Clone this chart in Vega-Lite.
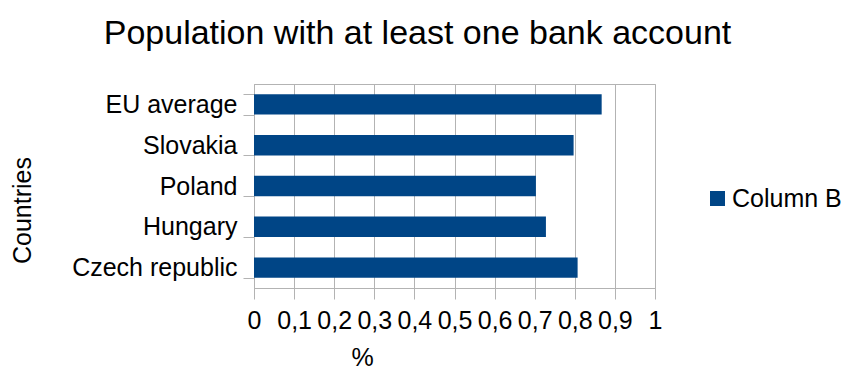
{
  "$schema": "https://vega.github.io/schema/vega-lite/v6.json",
  "autosize": {"type": "none"},
  "padding": {"left": 254, "top": 84, "right": 196, "bottom": 84},
  "width": 401,
  "height": 204,
  "background": "white",
  "title": {
    "text": "Population with at least one bank account",
    "font": "Liberation Sans",
    "fontSize": 34,
    "fontWeight": "normal",
    "color": "#000000",
    "anchor": "middle",
    "frame": "group",
    "baseline": "alphabetic",
    "offset": 42,
    "dx": -37,
    "dy": 48
  },
  "data": {
    "values": [
      {"country": "EU average", "value": 0.867, "series": "Column B"},
      {"country": "Slovakia", "value": 0.797, "series": "Column B"},
      {"country": "Poland", "value": 0.703, "series": "Column B"},
      {"country": "Hungary", "value": 0.728, "series": "Column B"},
      {"country": "Czech republic", "value": 0.807, "series": "Column B"}
    ]
  },
  "mark": {"type": "bar"},
  "encoding": {
    "y": {
      "field": "country",
      "type": "nominal",
      "sort": ["EU average", "Slovakia", "Poland", "Hungary", "Czech republic"],
      "scale": {"paddingInner": 0.5, "paddingOuter": 0.25},
      "axis": {
        "title": "Countries",
        "titleFont": "Liberation Sans",
        "titleFontSize": 25,
        "titleFontWeight": "normal",
        "titleColor": "#000000",
        "titleAngle": -90,
        "titleAlign": "center",
        "titleBaseline": "middle",
        "titleX": -232,
        "titleY": 126,
        "labelFont": "Liberation Sans",
        "labelFontSize": 25,
        "labelColor": "#000000",
        "labelPadding": 6,
        "tickSize": 11,
        "tickColor": "#b3b3b3",
        "tickBand": "extent",
        "domainColor": "#b3b3b3",
        "grid": false
      }
    },
    "x": {
      "field": "value",
      "type": "quantitative",
      "scale": {"domain": [0, 1], "nice": false},
      "axis": {
        "title": "%",
        "titleFont": "Liberation Sans",
        "titleFontSize": 25,
        "titleFontWeight": "normal",
        "titleColor": "#000000",
        "titleAlign": "center",
        "titleBaseline": "alphabetic",
        "titleX": 108,
        "titleY": 77,
        "values": [0, 0.1, 0.2, 0.3, 0.4, 0.5, 0.6, 0.7, 0.8, 0.9, 1],
        "labelExpr": "replace(format(datum.value, '.1~f'), '.', ',')",
        "labelFont": "Liberation Sans",
        "labelFontSize": 25,
        "labelColor": "#000000",
        "labelBaseline": "alphabetic",
        "labelPadding": 29,
        "labelOverlap": false,
        "labelFlush": false,
        "tickSize": 11,
        "tickColor": "#b3b3b3",
        "domainColor": "#b3b3b3",
        "grid": true,
        "gridColor": "#b3b3b3",
        "gridOpacity": 1
      }
    },
    "color": {
      "field": "series",
      "type": "nominal",
      "scale": {"range": ["#004586"]},
      "legend": {
        "title": null,
        "orient": "none",
        "legendX": 451,
        "legendY": 102,
        "padding": 0,
        "symbolType": "square",
        "symbolSize": 225,
        "symbolStrokeWidth": 0,
        "symbolOpacity": 1,
        "labelFont": "Liberation Sans",
        "labelFontSize": 25,
        "labelColor": "#000000",
        "labelOffset": 2
      }
    }
  },
  "config": {
    "view": {"stroke": "#b3b3b3", "strokeWidth": 1}
  }
}
